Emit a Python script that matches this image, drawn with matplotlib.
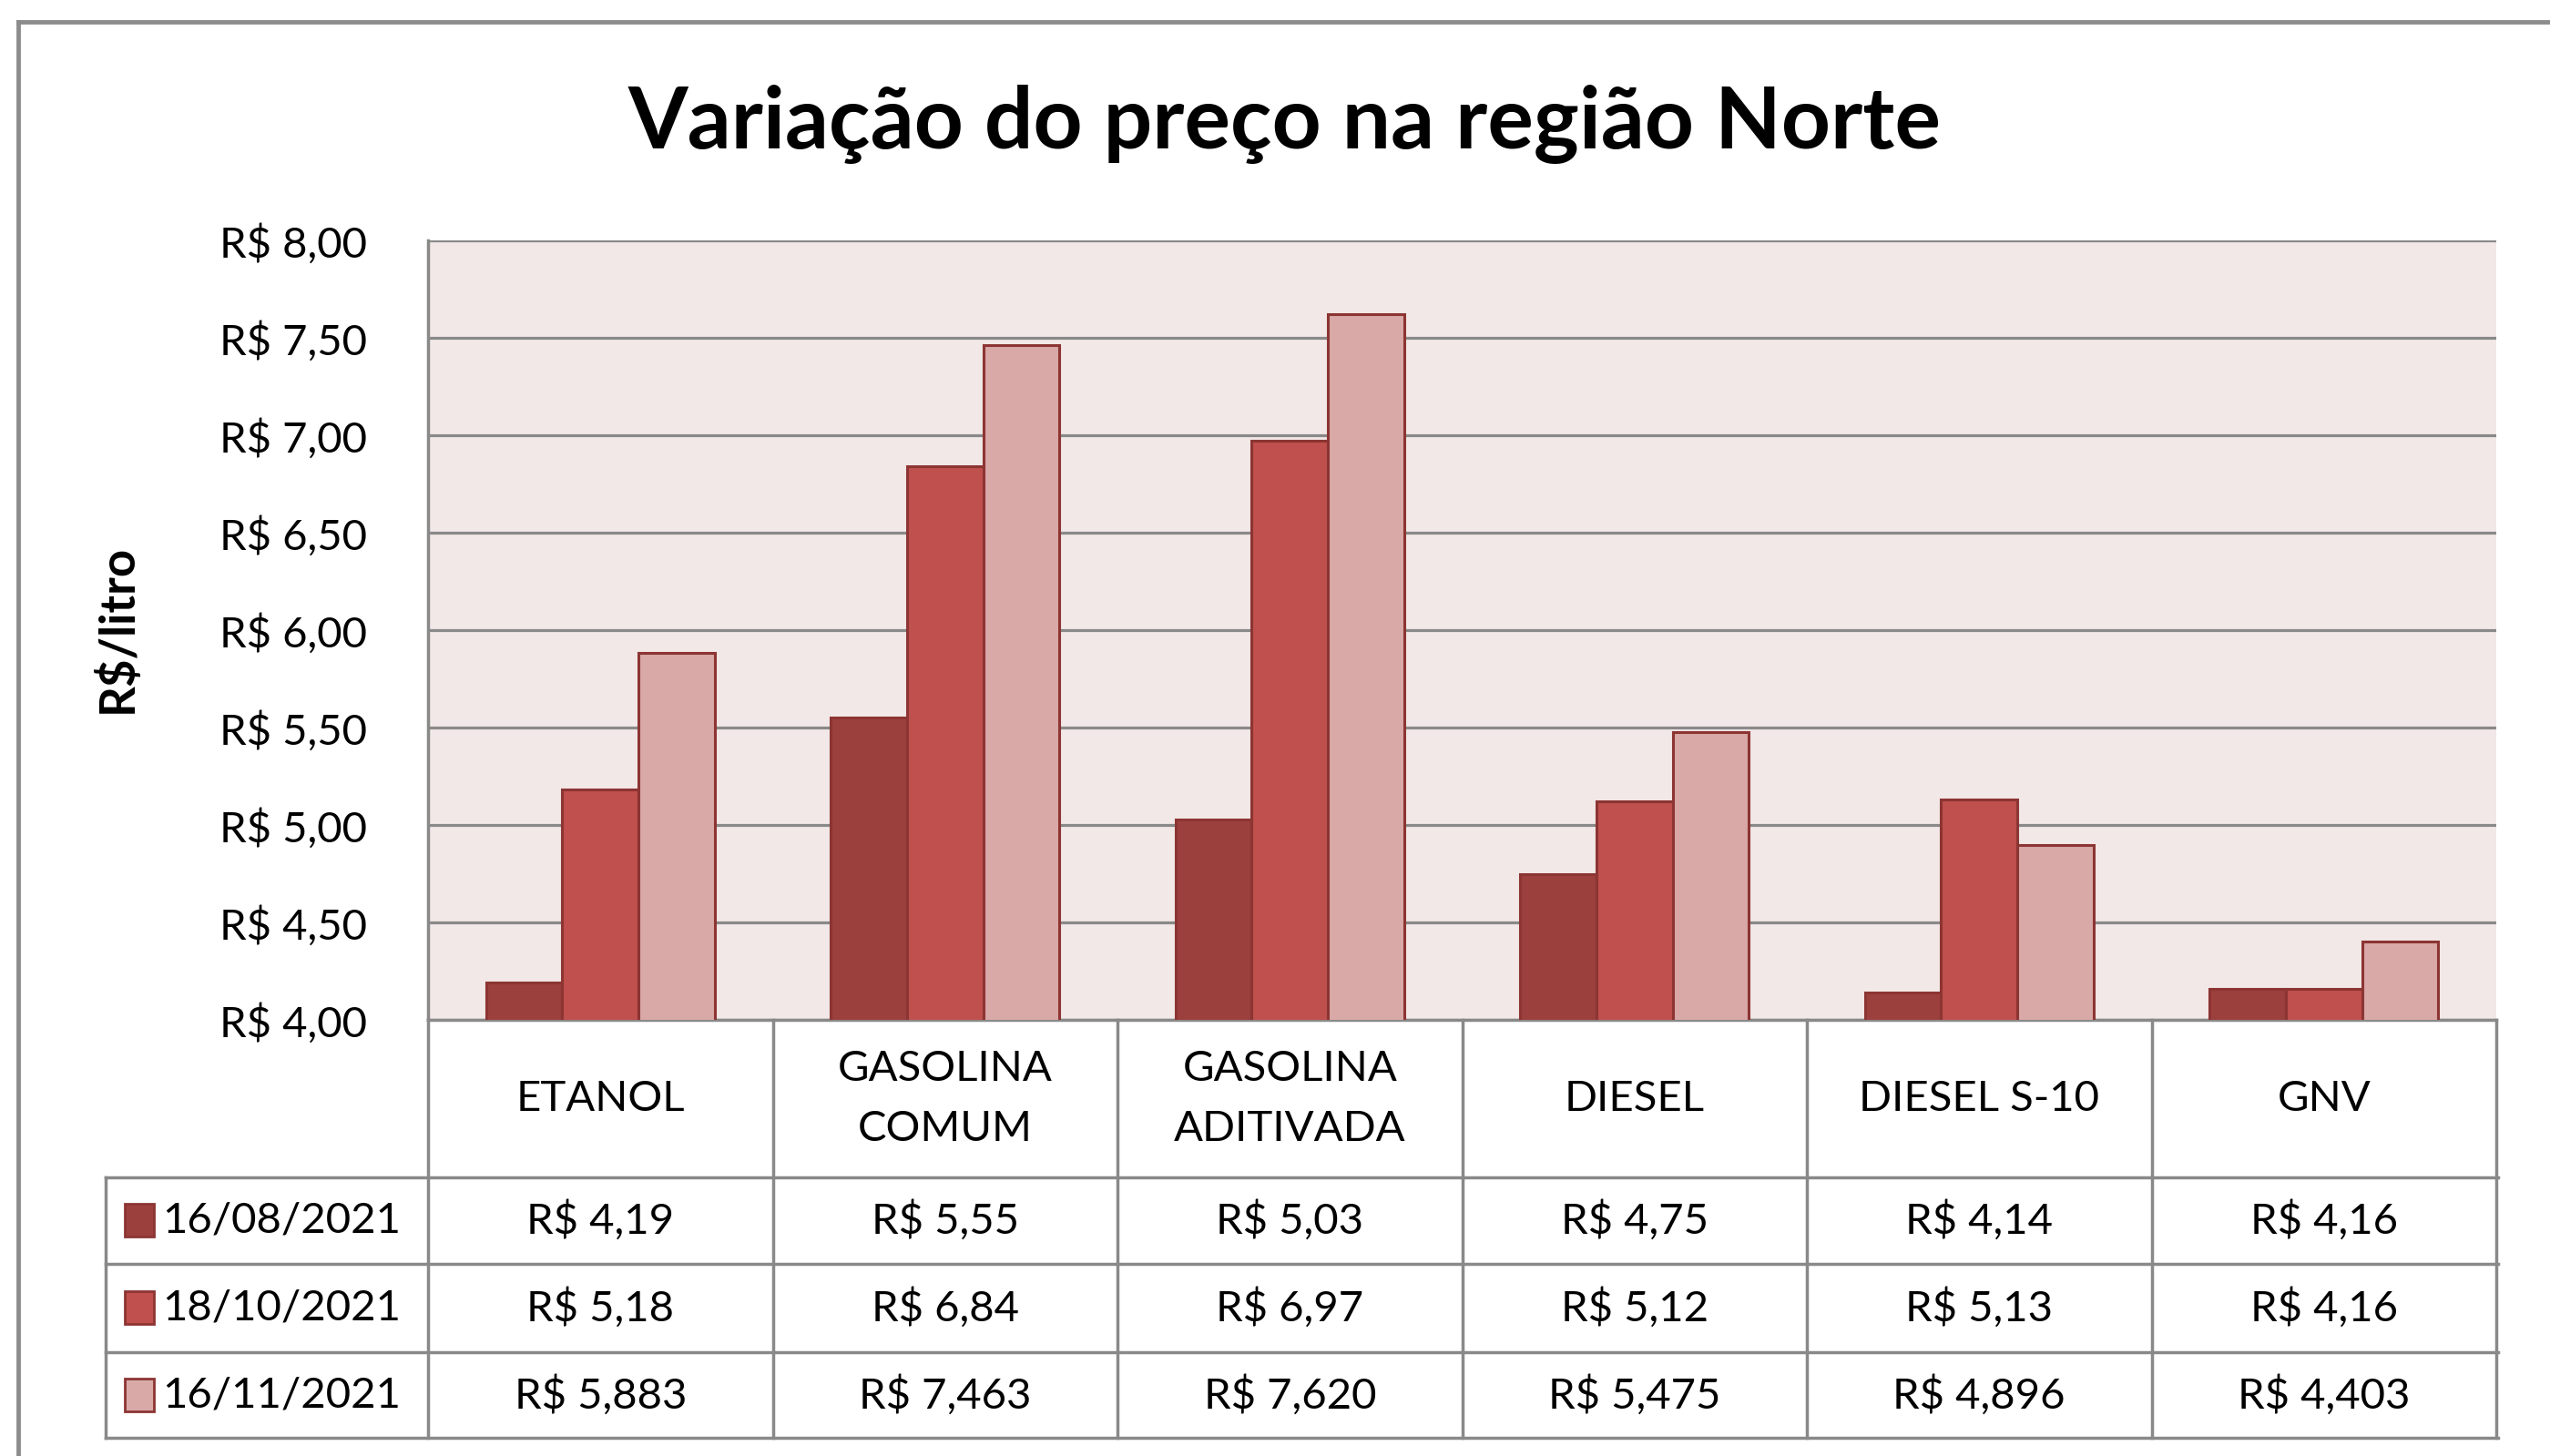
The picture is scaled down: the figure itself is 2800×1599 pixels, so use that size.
import matplotlib
matplotlib.use('Agg')
import matplotlib.pyplot as plt
import matplotlib.transforms as mtransforms
from matplotlib.lines import Line2D
from matplotlib.patches import Rectangle
import numpy as np

plt.rcParams['font.family'] = ['Lato', 'DejaVu Sans']

# data
categories = ['ETANOL', 'GASOLINA\nCOMUM', 'GASOLINA\nADITIVADA', 'DIESEL', 'DIESEL S-10', 'GNV']
dates = ['16/08/2021', '18/10/2021', '16/11/2021']
prices_aug = [4.19, 5.55, 5.03, 4.75, 4.14, 4.16]
prices_oct = [5.18, 6.84, 6.97, 5.12, 5.13, 4.16]
prices_nov = [5.883, 7.463, 7.620, 5.475, 4.896, 4.403]
decimals = [2, 2, 3]
yticks = [4.0, 4.5, 5.0, 5.5, 6.0, 6.5, 7.0, 7.5, 8.0]

series = [prices_aug, prices_oct, prices_nov]
colors = ['#9C403E', '#C0504D', '#D9A9A8']
edge = '#8C3533'
grid = '#898989'
fs = 34  # body text size

W, H = 2800, 1599


def fx(px):
    return px / W


def fy(py):
    return 1 - py / H


def brl(v, d):
    return ('R$ {:.%df}' % d).format(v).replace('.', ',')


fig = plt.figure(figsize=(W / 100, H / 100), dpi=100)

# plot area
ax = fig.add_axes([fx(470), fy(1120), fx(2741) - fx(470), fy(264) - fy(1120)])
ax.set_facecolor('#F2E8E7')
x = np.arange(len(categories)) + 0.5
width = 0.221
for k, vals in enumerate(series):
    ax.bar(x + (k - 1) * width, vals, width, color=colors[k], edgecolor=edge, linewidth=2.2, zorder=3)

ax.set_xlim(0, len(categories))
ax.set_ylim(4, 8)
ax.set_yticks(yticks)
ax.set_yticklabels([brl(v, 2) for v in yticks])
ax.set_xticks([])
ax.yaxis.grid(True, color=grid, linewidth=2.3)
ax.set_axisbelow(True)
ax.tick_params(axis='y', length=0, pad=48, labelsize=fs)
for s in ['top', 'right']:
    ax.spines[s].set_visible(False)
for s in ['left', 'bottom']:
    ax.spines[s].set_color(grid)
    ax.spines[s].set_linewidth(2.5)

# data table below the plot
blend = mtransforms.blended_transform_factory(ax.transData, fig.transFigure)
row_lines = [1293, 1388, 1485, 1579]
row_centers = [1340, 1436, 1532]
for i in range(len(categories) + 1):
    fig.add_artist(Line2D([i, i], [fy(1120), fy(1579)], transform=blend, color=grid, lw=2.5))
for py in row_lines:
    fig.add_artist(Line2D([fx(116), fx(2743)], [fy(py), fy(py)], color=grid, lw=2.5))
fig.add_artist(Line2D([fx(116), fx(116)], [fy(1293), fy(1579)], color=grid, lw=2.5))

for i, cat in enumerate(categories):
    ax.text(x[i], fy(1207), cat, transform=blend, ha='center', va='center',
            fontsize=fs, linespacing=1.7)

for k, vals in enumerate(series):
    yc = fy(row_centers[k])
    fig.add_artist(Rectangle((fx(137), yc - 18 / H), 32 / W, 36 / H, transform=fig.transFigure,
                             facecolor=colors[k], edgecolor=edge, lw=2))
    fig.text(fx(178), yc, dates[k], ha='left', va='center', fontsize=fs)
    for i, v in enumerate(vals):
        ax.text(x[i], yc, brl(v, decimals[k]), transform=blend, ha='center', va='center', fontsize=fs)

# titles
fig.text(fx(1411), fy(136), 'Variação do preço na região Norte', ha='center', va='center',
         fontsize=68, fontweight='bold')
fig.text(fx(128), fy(690), 'R$/litro', ha='center', va='center', rotation=90,
         fontsize=38, fontweight='bold')

# chart frame (top and left edges)
fig.add_artist(Line2D([fx(20), 1], [fy(24), fy(24)], color='#8C8C8C', lw=3.5))
fig.add_artist(Line2D([fx(20), fx(20)], [fy(24), 0], color='#8C8C8C', lw=3.5))

fig.savefig('out.png', dpi=100, facecolor='white')
